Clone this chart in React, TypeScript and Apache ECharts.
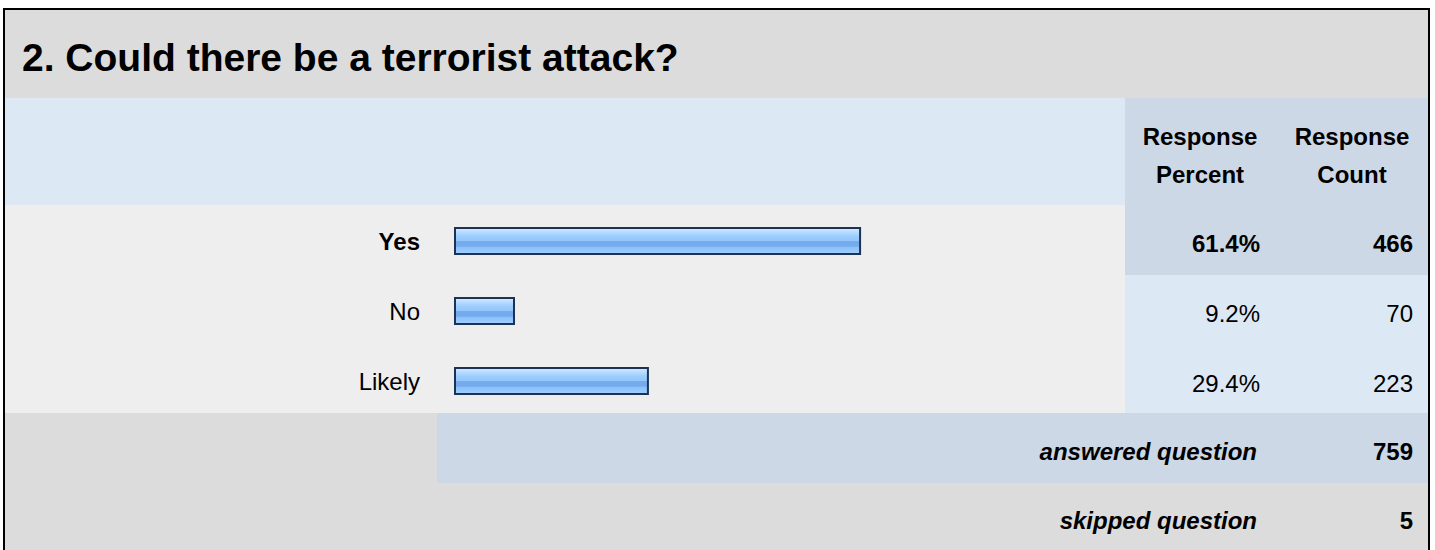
import React, { useEffect, useRef } from "react";
import * as echarts from "echarts";

const titleText = "2. Could there be a terrorist attack?";
const categories = ["Yes", "No", "Likely"];
const percents = [61.4, 9.2, 29.4];
const counts = [466, 70, 223];
const headerPercent = ["Response", "Percent"];
const headerCount = ["Response", "Count"];
const answeredLabel = "answered question";
const answeredCount = 759;
const skippedLabel = "skipped question";
const skippedCount = 5;

const FONT = 'Arial, "Liberation Sans", sans-serif';
const FS = 24;
const GRAY = "#dcdcdc";
const LIGHT = "#dde8f5";
const DARK = "#cdd8e6";
const ROWBG = "#eeeeee";

export default function App() {
  const ref = useRef<HTMLDivElement>(null);
  useEffect(() => {
    if (!ref.current) return;
    const chart = echarts.init(ref.current, undefined, { renderer: "svg" });
    const rowY = [241, 311, 381];
    const maxIdx = percents.indexOf(Math.max(...percents));

    const bg = (x: number, y: number, w: number, h: number, fill: string) => ({
      type: "rect",
      z: -10,
      shape: { x, y, width: w, height: h },
      style: { fill },
      silent: true,
    });
    const txt = (
      text: string,
      x: number,
      y: number,
      align: string,
      weight: string,
      size = FS,
      italic = false
    ) => ({
      type: "text",
      z: 10,
      x,
      y,
      style: {
        text,
        fill: "#000",
        font: `${italic ? "italic " : ""}${weight} ${size}px ${FONT}`,
        align,
        verticalAlign: "middle",
      },
      silent: true,
    });

    const graphics: any[] = [
      bg(4, 9, 1425, 89, GRAY),
      bg(4, 98, 1121, 107, LIGHT),
      bg(1125, 98, 304, 107, DARK),
      bg(4, 205, 1121, 208, ROWBG),
      bg(1125, 205, 304, 70, DARK),
      bg(1125, 275, 304, 138, LIGHT),
      bg(4, 413, 433, 70, GRAY),
      bg(437, 413, 992, 70, DARK),
      bg(4, 483, 1425, 80, GRAY),
      {
        type: "rect",
        z: 20,
        shape: { x: 4, y: 9, width: 1425, height: 600 },
        style: { fill: "none", stroke: "#000", lineWidth: 2 },
        silent: true,
      },
      txt(titleText, 22, 57, "left", "bold", 39),
      txt(headerPercent[0], 1200, 136, "center", "bold"),
      txt(headerPercent[1], 1200, 174, "center", "bold"),
      txt(headerCount[0], 1352, 136, "center", "bold"),
      txt(headerCount[1], 1352, 174, "center", "bold"),
      txt(answeredLabel, 1257, 451, "right", "bold", FS, true),
      txt(String(answeredCount), 1413, 451, "right", "bold"),
      txt(skippedLabel, 1257, 520, "right", "bold", FS, true),
      txt(String(skippedCount), 1413, 520, "right", "bold"),
    ];
    categories.forEach((_, i) => {
      const w = i === maxIdx ? "bold" : "normal";
      graphics.push(txt(percents[i].toFixed(1) + "%", 1260, rowY[i] + 2, "right", w));
      graphics.push(txt(String(counts[i]), 1413, rowY[i] + 2, "right", w));
    });

    const barGradient = new echarts.graphic.LinearGradient(0, 0, 0, 1, [
      { offset: 0, color: "#d2eaff" },
      { offset: 0.18, color: "#b4daff" },
      { offset: 0.32, color: "#9ccdff" },
      { offset: 0.5, color: "#93c5fb" },
      { offset: 0.52, color: "#74aaee" },
      { offset: 0.7, color: "#74aaee" },
      { offset: 0.74, color: "#8cc0fa" },
      { offset: 1, color: "#9fd0ff" },
    ]);

    chart.setOption({
      animation: false,
      grid: { left: 454, top: 206, width: 663, height: 210, containLabel: false },
      xAxis: {
        type: "value",
        min: 0,
        max: 100,
        show: false,
        splitLine: { show: false },
      },
      yAxis: {
        type: "category",
        data: categories,
        inverse: true,
        axisLine: { show: false },
        axisTick: { show: false },
        splitLine: { show: false },
        axisLabel: {
          margin: 34,
          fontSize: FS,
          fontFamily: FONT,
          color: "#000",
          formatter: (v: string) =>
            categories.indexOf(v) === maxIdx ? `{b|${v}}` : `{n|${v}}`,
          rich: {
            b: { fontSize: FS, fontWeight: "bold", fontFamily: FONT, color: "#000" },
            n: { fontSize: FS, fontWeight: "normal", fontFamily: FONT, color: "#000" },
          },
        },
      },
      series: [
        {
          type: "bar",
          data: percents,
          barWidth: 28,
          itemStyle: {
            color: barGradient,
            borderColor: "#1c3356",
            borderWidth: 2,
          },
          silent: true,
        },
      ],
      graphic: graphics,
    });
    return () => chart.dispose();
  }, []);
  return (
    <div
      ref={ref}
      style={{ position: "absolute", left: 0, top: 0, width: 1435, height: 550, background: "#fff" }}
    />
  );
}
